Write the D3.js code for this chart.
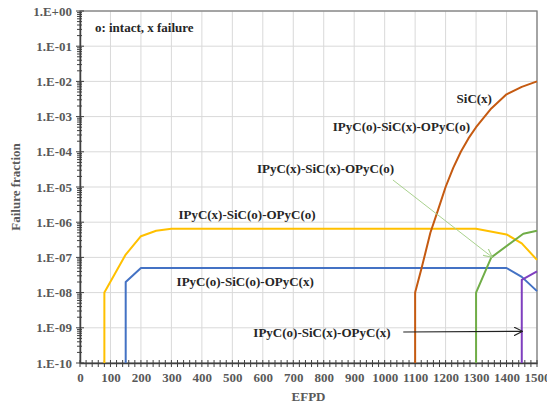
<!DOCTYPE html>
<html>
<head>
<meta charset="utf-8">
<script src="https://cdn.jsdelivr.net/npm/d3@7"></script>
<style>
  body { margin: 0; background: #fff; }
  text { font-family: "Liberation Serif", "Times New Roman", serif; }
</style>
</head>
<body>
<div id="chart"></div>
<script>
// EFPD / failure fraction for each coating state
const ipycFailEfpd = [80, 80, 150, 200, 250, 300, 1300, 1400, 1450, 1500];
const ipycFailFrac = [1e-10, 1e-8, 1.2e-7, 4e-7, 5.7e-7, 6.5e-7, 6.5e-7, 4.5e-7, 2.5e-7, 8.5e-8];

const opycFailEfpd = [150, 150, 200, 1400, 1450, 1500];
const opycFailFrac = [1e-10, 2e-8, 5e-8, 5e-8, 2.8e-8, 1.1e-8];

const sicFailEfpd = [1100, 1100, 1120, 1150, 1175, 1200, 1225, 1250, 1275, 1300, 1350, 1400, 1450, 1500];
const sicFailFrac = [1e-10, 1e-8, 4.5e-8, 5e-7, 2.2e-6, 1e-5, 3.5e-5, 1e-4, 2.4e-4, 5e-4, 1.7e-3, 4.3e-3, 7e-3, 1e-2];

const ipycSicFailEfpd = [1300, 1300, 1350, 1455, 1500];
const ipycSicFailFrac = [1e-10, 1e-8, 1e-7, 4.7e-7, 5.7e-7];

const sicOpycFailEfpd = [1450, 1450, 1500];
const sicOpycFailFrac = [1e-10, 2.3e-8, 4e-8];

const xTicks = d3.range(0, 1501, 100);
const yTicks = d3.range(0, -11, -1).map(e => Math.pow(10, e));
const yTickLabels = ["1.E+00", "1.E-01", "1.E-02", "1.E-03", "1.E-04", "1.E-05",
                     "1.E-06", "1.E-07", "1.E-08", "1.E-09", "1.E-10"];

const width = 547, height = 405;
const margin = { top: 11, right: 10, bottom: 42, left: 80 };

const svg = d3.select("#chart").append("svg")
    .attr("width", width)
    .attr("height", height);

const x = d3.scaleLinear().domain([0, 1500]).range([margin.left, width - margin.right]);
const y = d3.scaleLog().domain([1e-10, 1]).range([height - margin.bottom, margin.top]);

const defs = svg.append("defs");
function arrowHead(id, color) {
    defs.append("marker")
        .attr("id", id)
        .attr("viewBox", "0 0 10 10")
        .attr("refX", 9).attr("refY", 5)
        .attr("markerWidth", 9).attr("markerHeight", 9)
        .attr("markerUnits", "userSpaceOnUse")
        .attr("orient", "auto")
        .append("path")
        .attr("d", "M0,0 L10,5 L0,10")
        .attr("fill", "none")
        .attr("stroke", color)
        .attr("stroke-width", 1.2);
}
arrowHead("arrowBlack", "#222");
arrowHead("arrowGreen", "#a9d18e");

// gridlines
svg.append("g")
    .selectAll("line.vg")
    .data(xTicks.slice(1))
    .enter().append("line")
    .attr("x1", d => x(d)).attr("x2", d => x(d))
    .attr("y1", y(1e-10)).attr("y2", y(1))
    .attr("stroke", "#d9d9d9").attr("stroke-width", 1);
svg.append("g")
    .selectAll("line.hg")
    .data(yTicks.slice(0, -1))
    .enter().append("line")
    .attr("x1", x(0)).attr("x2", x(1500))
    .attr("y1", d => y(d)).attr("y2", d => y(d))
    .attr("stroke", "#d9d9d9").attr("stroke-width", 1);

// frame (top/right)
svg.append("rect")
    .attr("x", x(0)).attr("y", y(1))
    .attr("width", x(1500) - x(0)).attr("height", y(1e-10) - y(1))
    .attr("fill", "none").attr("stroke", "#7f7f7f").attr("stroke-width", 1.3);

// x axis
const xAxis = svg.append("g")
    .attr("transform", `translate(0,${y(1e-10)})`)
    .call(d3.axisBottom(x).tickValues(xTicks).tickSize(0).tickPadding(10));
xAxis.select(".domain").attr("stroke", "#404040").attr("stroke-width", 1.5);
xAxis.selectAll("text")
    .attr("font-family", "Liberation Serif, serif")
    .attr("font-size", 13)
    .attr("font-weight", "bold")
    .attr("fill", "#595959")
    .text(d => d);
xAxis.selectAll(".tick line").remove();
svg.append("g")
    .selectAll("line")
    .data(d3.range(0, 1501, 20))
    .enter().append("line")
    .attr("x1", d => x(d)).attr("x2", d => x(d))
    .attr("y1", y(1e-10) - 3).attr("y2", y(1e-10) + 4)
    .attr("stroke", "#404040").attr("stroke-width", 1);

// y axis
const yAxis = svg.append("g")
    .attr("transform", `translate(${x(0)},0)`)
    .call(d3.axisLeft(y).tickValues(yTicks).tickSize(0).tickPadding(8)
        .tickFormat((d, i) => yTickLabels[i]));
yAxis.select(".domain").attr("stroke", "#404040").attr("stroke-width", 1.5);
yAxis.selectAll("text")
    .attr("font-family", "Liberation Serif, serif")
    .attr("font-size", 13)
    .attr("font-weight", "bold")
    .attr("fill", "#595959");
const minorY = [];
yTicks.forEach(t => { for (let k = 1; k < 10; k++) if (t * k <= 1) minorY.push(t * k); });
svg.append("g")
    .selectAll("line")
    .data(minorY.filter(v => v >= 1e-10))
    .enter().append("line")
    .attr("x1", d => x(0) - (Math.log10(d) % 1 === 0 ? 4 : 3))
    .attr("x2", d => x(0) + (Math.log10(d) % 1 === 0 ? 4 : 2))
    .attr("y1", d => y(d)).attr("y2", d => y(d))
    .attr("stroke", "#404040").attr("stroke-width", 1);

// axis titles
svg.append("text")
    .attr("x", (x(0) + x(1500)) / 2).attr("y", 401)
    .attr("text-anchor", "middle")
    .attr("font-size", 13).attr("font-weight", "bold").attr("fill", "#595959")
    .text("EFPD");
svg.append("text")
    .attr("transform", `translate(20,${(y(1) + y(1e-10)) / 2}) rotate(-90)`)
    .attr("text-anchor", "middle")
    .attr("font-size", 13).attr("font-weight", "bold").attr("fill", "#595959")
    .text("Failure fraction");

// series
const line = d3.line().x(d => x(d[0])).y(d => y(d[1]));
const series = [
    { efpd: ipycFailEfpd, frac: ipycFailFrac, color: "#ffc000" },
    { efpd: opycFailEfpd, frac: opycFailFrac, color: "#4472c4" },
    { efpd: sicFailEfpd, frac: sicFailFrac, color: "#c55a11" },
    { efpd: ipycSicFailEfpd, frac: ipycSicFailFrac, color: "#70ad47" },
    { efpd: sicOpycFailEfpd, frac: sicOpycFailFrac, color: "#7f3fbf" }
];
svg.append("g")
    .selectAll("path")
    .data(series)
    .enter().append("path")
    .attr("d", s => line(s.efpd.map((e, i) => [e, s.frac[i]])))
    .attr("fill", "none")
    .attr("stroke", s => s.color)
    .attr("stroke-width", 2)
    .attr("stroke-linejoin", "round");

// annotations
function note(txt, ex, fy, anchor) {
    svg.append("text")
        .attr("x", x(ex)).attr("y", y(fy))
        .attr("text-anchor", anchor || "start")
        .attr("font-size", 13).attr("font-weight", "bold").attr("fill", "#262626")
        .text(txt);
}
note("o: intact, x failure", 49, Math.pow(10, -0.6));
note("SiC(x)", 1236, Math.pow(10, -2.6));
note("IPyC(o)-SiC(x)-OPyC(o)", 1280, Math.pow(10, -3.41), "end");
note("IPyC(x)-SiC(x)-OPyC(o)", 1031, Math.pow(10, -4.6), "end");
note("IPyC(x)-SiC(o)-OPyC(o)", 323, Math.pow(10, -5.9));
note("IPyC(o)-SiC(o)-OPyC(x)", 317, Math.pow(10, -7.8));
note("IPyC(o)-SiC(x)-OPyC(x)", 569, Math.pow(10, -9.26));

svg.append("line")
    .attr("x1", x(1027)).attr("y1", y(Math.pow(10, -4.8)))
    .attr("x2", x(1351)).attr("y2", y(Math.pow(10, -6.98)))
    .attr("stroke", "#a9d18e").attr("stroke-width", 1)
    .attr("marker-end", "url(#arrowGreen)");
svg.append("line")
    .attr("x1", x(1061)).attr("y1", y(Math.pow(10, -9.12)))
    .attr("x2", x(1450)).attr("y2", y(Math.pow(10, -9.1)))
    .attr("stroke", "#222").attr("stroke-width", 1.2)
    .attr("marker-end", "url(#arrowBlack)");
</script>
</body>
</html>
